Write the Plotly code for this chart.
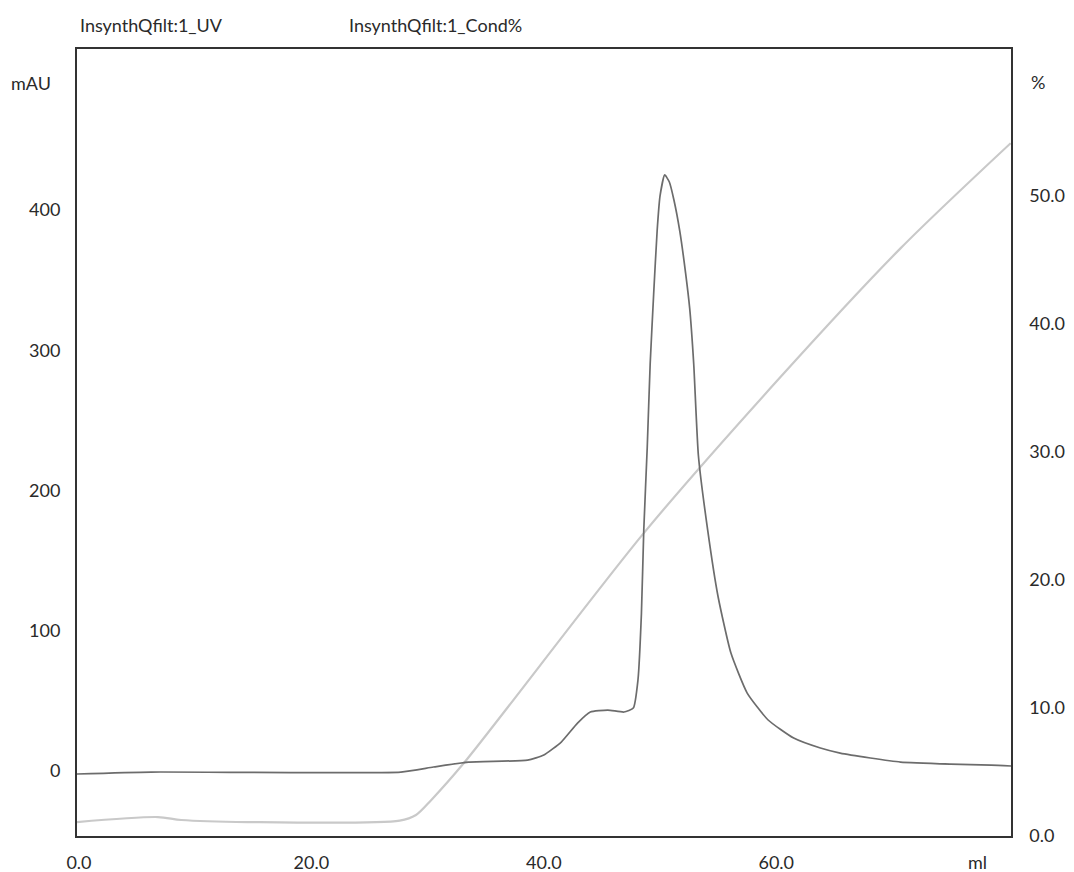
import plotly.graph_objects as go

# ---- data ----
uv_ml = [-0.17, 6.2, 27.7, 30.5, 33.5, 38.6, 40.0, 41.5, 42.9, 44.0, 45.5, 46.9, 47.7,
         48.1, 48.4, 48.6, 48.9, 49.15, 49.45, 49.75, 50.0, 50.4, 50.8, 51.2, 51.7, 52.2,
         52.55, 52.9, 53.3, 54.1, 55.0, 56.1, 57.5, 59.3, 61.5, 63.8, 65.5, 68.1, 70.7,
         75.0, 78.5, 80.2]
uv_mau = [-2.1, -0.7, -0.7, 2.9, 6.4, 7.8, 11.4, 20.7, 34.2, 42.1, 43.5, 42.1, 44.9,
          64.9, 112.7, 171.8, 231.0, 290.0, 340.0, 385.0, 410.0, 425.0, 420.0, 407.0, 385.0, 355.0,
          330.0, 290.0, 225.0, 171.8, 124.1, 84.1, 55.6, 36.4, 23.5, 16.4, 12.8, 9.3, 6.4,
          5.0, 4.3, 3.6]

cond_ml = [-0.17, 6.8, 8.8, 14.5, 27.6, 29.0, 30.3, 33.12, 48.6, 60.13, 70.71, 80.17]
cond_pct = [1.09, 1.48, 1.25, 1.09, 1.2, 1.64, 2.8, 5.70, 23.67, 35.63, 45.94, 54.14]

x_ticks = [0, 20, 40, 60]
x_tick_labels = ["0.0", "20.0", "40.0", "60.0"]
mau_ticks = [0, 100, 200, 300, 400]
mau_tick_labels = ["0", "100", "200", "300", "400"]
pct_ticks = [0, 10, 20, 30, 40, 50]
pct_tick_labels = ["0.0", "10.0", "20.0", "30.0", "40.0", "50.0"]

curve_names = ["InsynthQfilt:1_UV", "InsynthQfilt:1_Cond%"]

FONT = "Lato"
FS = 18
TXT = "#2a2a2a"

fig = go.Figure()
fig.add_trace(go.Scatter(
    x=cond_ml, y=cond_pct, mode="lines", name=curve_names[1],
    line=dict(color="#c9c9c9", width=2.2, shape="spline", smoothing=0.8),
    yaxis="y", hoverinfo="skip"))
fig.add_trace(go.Scatter(
    x=uv_ml, y=uv_mau, mode="lines", name=curve_names[0],
    line=dict(color="#6c6c6c", width=1.7, shape="spline", smoothing=0.5),
    yaxis="y2", hoverinfo="skip"))

axis_common = dict(showgrid=False, zeroline=False, ticks="outside",
                   tickcolor="rgba(0,0,0,0)", automargin=False,
                   tickfont=dict(family=FONT, size=FS, color=TXT))

fig.update_layout(
    width=1074, height=872,
    margin=dict(l=77, r=63, t=49, b=36),
    paper_bgcolor="white", plot_bgcolor="white",
    showlegend=False,
    xaxis=dict(range=[-0.17, 80.2], tickvals=x_ticks, ticktext=x_tick_labels,
               showline=True, mirror=True, linecolor="#333333", linewidth=1.5,
               ticklen=10, **axis_common),
    yaxis=dict(range=[0, 61.5], side="right", tickvals=pct_ticks, ticktext=pct_tick_labels,
               showline=True, mirror=True, linecolor="#333333", linewidth=1.5,
               ticklen=13, **axis_common),
    yaxis2=dict(range=[-46.3, 514.8], side="left", overlaying="y",
                tickvals=mau_ticks, ticktext=mau_tick_labels,
                showline=False, ticklen=12, **axis_common),
)

def ann(text, x, y, xanchor="center"):
    fig.add_annotation(text=text, x=x, y=y, xref="paper", yref="paper",
                       xanchor=xanchor, yanchor="middle", showarrow=False,
                       font=dict(family=FONT, size=FS, color=TXT))

ann(curve_names[0], 0.001, 1.0305, "left")
ann(curve_names[1], 0.289, 1.0305, "left")
ann("mAU", -0.0493, 0.957)
ann("%", 1.0289, 0.958)
ann("ml", 0.9636, -0.033)

fig.write_html("out.html", config={"displayModeBar": False},
               post_script="document.body.style.margin='0';")
